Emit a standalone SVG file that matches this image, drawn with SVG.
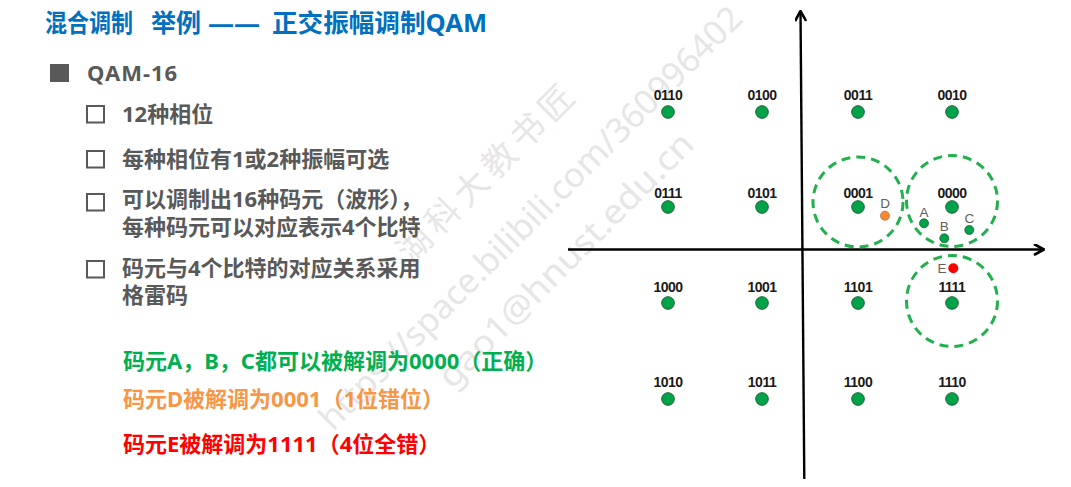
<svg xmlns="http://www.w3.org/2000/svg" width="1071" height="487" viewBox="0 0 1071 487">
  <style>
    .title { font-family: "Noto Sans", "Noto Sans CJK SC", sans-serif; font-weight: 700; font-size: 25px; fill: #0070c0; }
    .body { font-family: "Noto Sans", "Noto Sans CJK SC", sans-serif; font-weight: 700; font-size: 22px; fill: #595959; }
    .note { font-family: "Noto Sans", "Noto Sans CJK SC", sans-serif; font-weight: 700; font-size: 22px; }
    .box { fill: none; stroke: #595959; stroke-width: 2; }
    .wm { font-family: "Noto Sans", "Noto Sans CJK SC", sans-serif; fill: #e6e6e6; }
    .code { font-family: "Liberation Sans", Arial, sans-serif; font-weight: 700; font-size: 14px; letter-spacing: -0.5px; fill: #1a1a1a; text-anchor: middle; }
    .pt { fill: #00a24a; stroke: #1e5f30; stroke-width: 1; }
    .rx { fill: #00a24a; stroke: #1e5f30; stroke-width: 0.8; }
    .tag { font-family: "Liberation Sans", Arial, sans-serif; font-size: 13.5px; fill: #606060; text-anchor: middle; }
    .zone { fill: none; stroke: #22b04f; stroke-width: 3; stroke-dasharray: 9 6; }
    .axis { stroke: #000; stroke-width: 2.4; fill: none; }
  </style>
  <defs>
    <marker id="arrow" viewBox="0 0 12 12" refX="11" refY="6" markerWidth="12" markerHeight="12" markerUnits="userSpaceOnUse" orient="auto">
      <path d="M1,0.5 L11,6 L1,11.5" fill="none" stroke="#000" stroke-width="2.6"/>
    </marker>
  </defs>

  <rect width="1071" height="487" fill="#ffffff"/>

  <!-- background watermark -->
  <g id="watermark">
    <text class="wm" font-size="34" letter-spacing="6" transform="translate(411,265) rotate(-45)">湖科大教书匠</text>
    <text class="wm" font-size="34" transform="translate(333,432) rotate(-45)" textLength="582" lengthAdjust="spacingAndGlyphs">https://space.bilibili.com/360996402</text>
    <text class="wm" font-size="34" transform="translate(452,390) rotate(-45)" textLength="345" lengthAdjust="spacingAndGlyphs">gao1@hnust.edu.cn</text>
  </g>

  <!-- heading -->
  <text class="title" y="31.5">
    <tspan x="45" textLength="88" lengthAdjust="spacingAndGlyphs">混合调制</tspan><tspan x="151">举例</tspan><tspan x="208" textLength="52" lengthAdjust="spacingAndGlyphs">——</tspan><tspan x="272" textLength="215" lengthAdjust="spacingAndGlyphs">正交振幅调制QAM</tspan>
  </text>

  <!-- bullet list -->
  <g id="list">
    <rect x="50" y="64" width="19" height="18" fill="#595959"/>
    <text class="body" x="87" y="81" letter-spacing="1">QAM-16</text>

    <rect class="box" x="87" y="106" width="17" height="16.5"/>
    <text class="body" x="122" y="122">12种相位</text>

    <rect class="box" x="87" y="151" width="17" height="16.5"/>
    <text class="body" x="122" y="167">每种相位有1或2种振幅可选</text>

    <rect class="box" x="87" y="194" width="17" height="16.5"/>
    <text class="body" x="122" y="207">可以调制出16种码元（波形），</text>
    <text class="body" x="122" y="235">每种码元可以对应表示4个比特</text>

    <rect class="box" x="87" y="261" width="17" height="16.5"/>
    <text class="body" x="122" y="276">码元与4个比特的对应关系采用</text>
    <text class="body" x="122" y="303">格雷码</text>
  </g>

  <!-- decoding outcomes -->
  <g id="outcomes">
    <text class="note" x="123" y="369" fill="#00b050">码元A，B，C都可以被解调为0000（正确）</text>
    <text class="note" x="123" y="407" fill="#f79646">码元D被解调为0001（1位错位）</text>
    <text class="note" x="123" y="452" fill="#ff0000">码元E被解调为1111（4位全错）</text>
  </g>

  <!-- I/Q axes -->
  <g id="connectors">
    <line class="axis" x1="568" y1="249.5" x2="1044" y2="249.5" marker-end="url(#arrow)"/>
    <line class="axis" x1="804.3" y1="479" x2="800.5" y2="11" marker-end="url(#arrow)"/>
  </g>

  <!-- decision regions -->
  <g id="regions">
    <circle class="zone" cx="858" cy="202" r="45"/>
    <circle class="zone" cx="952" cy="201" r="45.5"/>
    <circle class="zone" cx="952" cy="301" r="45.5"/>
  </g>

  <!-- constellation points, row 1 -->
  <g id="p0110"><text class="code" x="668" y="100">0110</text><circle class="pt" cx="668" cy="112" r="6.3"/></g>
  <g id="p0100"><text class="code" x="762" y="100">0100</text><circle class="pt" cx="762" cy="112" r="6.3"/></g>
  <g id="p0011"><text class="code" x="858" y="100">0011</text><circle class="pt" cx="858" cy="112" r="6.3"/></g>
  <g id="p0010"><text class="code" x="952" y="100">0010</text><circle class="pt" cx="952" cy="112" r="6.3"/></g>
  <!-- row 2 -->
  <g id="p0111"><text class="code" x="668" y="197.5">0111</text><circle class="pt" cx="668" cy="207" r="6.3"/></g>
  <g id="p0101"><text class="code" x="762" y="197.5">0101</text><circle class="pt" cx="762" cy="207" r="6.3"/></g>
  <g id="p0001"><text class="code" x="858" y="197.5">0001</text><circle class="pt" cx="858" cy="207" r="6.3"/></g>
  <g id="p0000"><text class="code" x="952" y="197.5">0000</text><circle class="pt" cx="952" cy="207" r="6.3"/></g>
  <!-- row 3 -->
  <g id="p1000"><text class="code" x="668" y="292">1000</text><circle class="pt" cx="668" cy="303" r="6.3"/></g>
  <g id="p1001"><text class="code" x="762" y="292">1001</text><circle class="pt" cx="762" cy="303" r="6.3"/></g>
  <g id="p1101"><text class="code" x="858" y="292">1101</text><circle class="pt" cx="858" cy="303" r="6.3"/></g>
  <g id="p1111"><text class="code" x="952" y="292">1111</text><circle class="pt" cx="952" cy="303" r="6.3"/></g>
  <!-- row 4 -->
  <g id="p1010"><text class="code" x="668" y="387">1010</text><circle class="pt" cx="668" cy="399" r="6.3"/></g>
  <g id="p1011"><text class="code" x="762" y="387">1011</text><circle class="pt" cx="762" cy="399" r="6.3"/></g>
  <g id="p1100"><text class="code" x="858" y="387">1100</text><circle class="pt" cx="858" cy="399" r="6.3"/></g>
  <g id="p1110"><text class="code" x="952" y="387">1110</text><circle class="pt" cx="952" cy="399" r="6.3"/></g>

  <!-- received symbols -->
  <g id="symA"><text class="tag" x="924" y="216.5">A</text><circle class="rx" cx="924" cy="223.3" r="4.5"/></g>
  <g id="symB"><text class="tag" x="944.3" y="231">B</text><circle class="rx" cx="944.3" cy="238.3" r="4.5"/></g>
  <g id="symC"><text class="tag" x="969.3" y="223">C</text><circle class="rx" cx="969.3" cy="230" r="4.5"/></g>
  <g id="symD"><text class="tag" x="885" y="207.5">D</text><circle cx="885" cy="215.7" r="4.5" fill="#f28a36" stroke="#c7692a" stroke-width="0.8"/></g>
  <g id="symE"><text class="tag" x="942" y="273">E</text><circle cx="953.3" cy="268.3" r="5" fill="#ff0000"/></g>
</svg>
